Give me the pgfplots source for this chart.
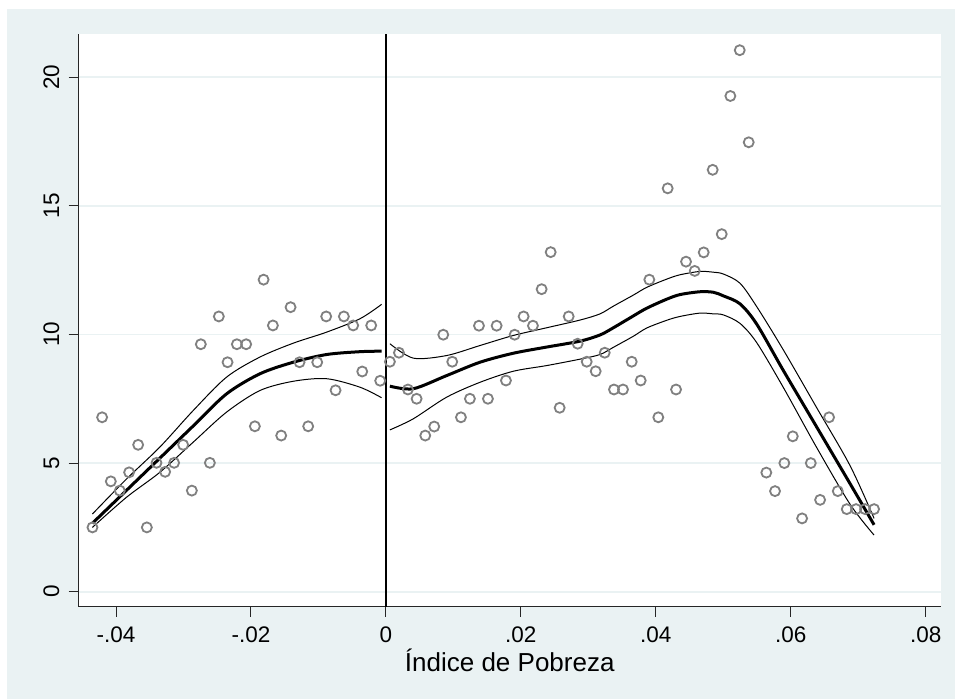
\documentclass[border=0pt]{standalone}
\usepackage{fontspec}
\setmainfont{Liberation Sans}
\usepackage{pgfplots}
\usepackage{pgfplotstable}
\pgfplotsset{compat=1.18}

\definecolor{stbg}{RGB}{234,242,243}
\definecolor{mkgray}{RGB}{128,128,128}

% binned means, left of the cutoff
\pgfplotstableread{
x y
-0.04349 2.50
-0.04206 6.78
-0.04077 4.29
-0.03944 3.93
-0.03806 4.64
-0.03672 5.71
-0.03543 2.50
-0.03400 5.01
-0.03272 4.66
-0.03139 5.01
-0.03005 5.71
-0.02876 3.93
-0.02743 9.62
-0.02609 5.01
-0.02476 10.70
-0.02347 8.92
-0.02209 9.62
-0.02071 9.62
-0.01942 6.43
-0.01813 12.13
-0.01675 10.35
-0.01552 6.07
-0.01413 11.06
-0.01280 8.92
-0.01152 6.43
-0.01018 8.92
-0.00885 10.70
-0.00746 7.83
-0.00623 10.70
-0.00485 10.35
-0.00351 8.56
-0.00218 10.35
-0.00085 8.20
}\binsleft

% binned means, right of the cutoff
\pgfplotstableread{
x y
0.00059 8.94
0.00193 9.29
0.00326 7.86
0.00455 7.50
0.00583 6.07
0.00716 6.42
0.00850 9.99
0.00983 8.94
0.01112 6.78
0.01245 7.50
0.01379 10.34
0.01512 7.50
0.01641 10.34
0.01779 8.21
0.01908 9.99
0.02041 10.70
0.02179 10.34
0.02308 11.76
0.02442 13.20
0.02575 7.15
0.02709 10.70
0.02842 9.64
0.02976 8.94
0.03109 8.57
0.03243 9.29
0.03380 7.86
0.03514 7.86
0.03643 8.94
0.03776 8.21
0.03904 12.13
0.04037 6.78
0.04176 15.68
0.04300 7.86
0.04448 12.83
0.04577 12.47
0.04710 13.19
0.04843 16.40
0.04977 13.90
0.05105 19.27
0.05244 21.05
0.05377 17.47
0.05638 4.63
0.05767 3.91
0.05905 5.00
0.06030 6.04
0.06168 2.85
0.06297 5.00
0.06435 3.57
0.06568 6.78
0.06697 3.91
0.06830 3.21
0.06968 3.21
0.07102 3.21
0.07235 3.21
}\binsright

% local polynomial fit with confidence band, left side
\pgfplotstableread{
x fit lo hi
-0.04350 2.66 2.50 3.02
-0.03845 3.94 3.67 4.38
-0.03351 5.19 4.64 5.62
-0.02857 6.44 5.81 7.04
-0.02362 7.69 6.98 8.34
-0.01868 8.47 7.82 9.12
-0.01374 8.92 8.18 9.66
-0.00879 9.22 8.28 10.09
-0.00385 9.33 7.95 10.61
-0.00064 9.35 7.54 11.17
}\fitleft

% local polynomial fit with confidence band, right side
\pgfplotstableread{
x fit lo hi
0.00059 7.99 6.29 9.64
0.00405 7.89 6.72 9.08
0.00899 8.40 7.56 9.18
0.01394 8.92 8.14 9.57
0.01888 9.27 8.57 9.96
0.02382 9.51 8.79 10.26
0.02877 9.74 9.04 10.56
0.03173 9.98 9.22 10.80
0.03371 10.26 9.50 11.10
0.03667 10.72 9.93 11.53
0.03865 11.02 10.25 11.83
0.04161 11.37 10.55 12.15
0.04359 11.55 10.70 12.32
0.04655 11.66 10.83 12.45
0.04853 11.64 10.80 12.42
0.05001 11.50 10.76 12.35
0.05248 11.19 10.43 11.99
0.05496 10.40 9.68 11.08
0.05890 8.60 7.94 9.40
0.06385 6.40 5.60 7.15
0.06879 4.20 3.40 4.90
0.07235 2.60 2.20 2.85
}\fitright

\begin{document}
\begin{tikzpicture}[x=1pt,y=1pt]
\fill[white] (0,0) rectangle (955,699);
\fill[stbg] (7,0) rectangle (955,690);
\begin{axis}[
  at={(78.5pt,92.3pt)}, anchor=south west,
  width=862.5pt, height=572.7pt, scale only axis,
  xmin=-0.04556, xmax=0.08227, ymin=-0.583, ymax=21.68,
  axis background/.style={fill=white},
  axis x line*=bottom, axis y line*=left,
  axis line style={-, line width=1pt, black!85},
  tick align=outside, major tick length=10pt,
  tick style={line width=1pt, black!85},
  scaled x ticks=false, scaled y ticks=false,
  xtick={-0.04,-0.02,0,0.02,0.04,0.06,0.08},
  xticklabels={-.04,-.02,0,.02,.04,.06,.08},
  ytick={0,5,10,15,20},
  yticklabels={0,5,10,15,20},
  minor tick num=0,
  ymajorgrids, grid style={stbg, line width=1.8pt},
  ticklabel style={font=\fontsize{22.5}{27}\selectfont},
  xticklabel style={anchor=base, yshift=-25.6pt},
  yticklabel style={xshift=-9.5pt, rotate=90, anchor=base},
  xlabel={Índice de Pobreza},
  xlabel style={font=\fontsize{26}{30}\selectfont,
    at={(axis description cs:0.5,0)}, anchor=base, yshift=-65pt},
]
% cutoff line
\addplot[black, line width=2.6pt] coordinates {(0,-0.583) (0,21.68)};

\addplot[only marks, mark=o, mark size=5pt, mkgray,
  mark options={line width=1.8pt}] table[x=x, y=y] {\binsleft};
\addplot[only marks, mark=o, mark size=5pt, mkgray,
  mark options={line width=1.8pt}] table[x=x, y=y] {\binsright};

\addplot[black, line width=1pt, smooth, tension=0.5] table[x=x, y=hi] {\fitleft};
\addplot[black, line width=1pt, smooth, tension=0.5] table[x=x, y=lo] {\fitleft};
\addplot[black, line width=3pt, smooth, tension=0.5] table[x=x, y=fit] {\fitleft};

\addplot[black, line width=1pt, smooth, tension=0.5] table[x=x, y=hi] {\fitright};
\addplot[black, line width=1pt, smooth, tension=0.5] table[x=x, y=lo] {\fitright};
\addplot[black, line width=3pt, smooth, tension=0.5] table[x=x, y=fit] {\fitright};
\end{axis}
\pgfresetboundingbox
\useasboundingbox (0,0) rectangle (955,699);
\end{tikzpicture}
\end{document}
